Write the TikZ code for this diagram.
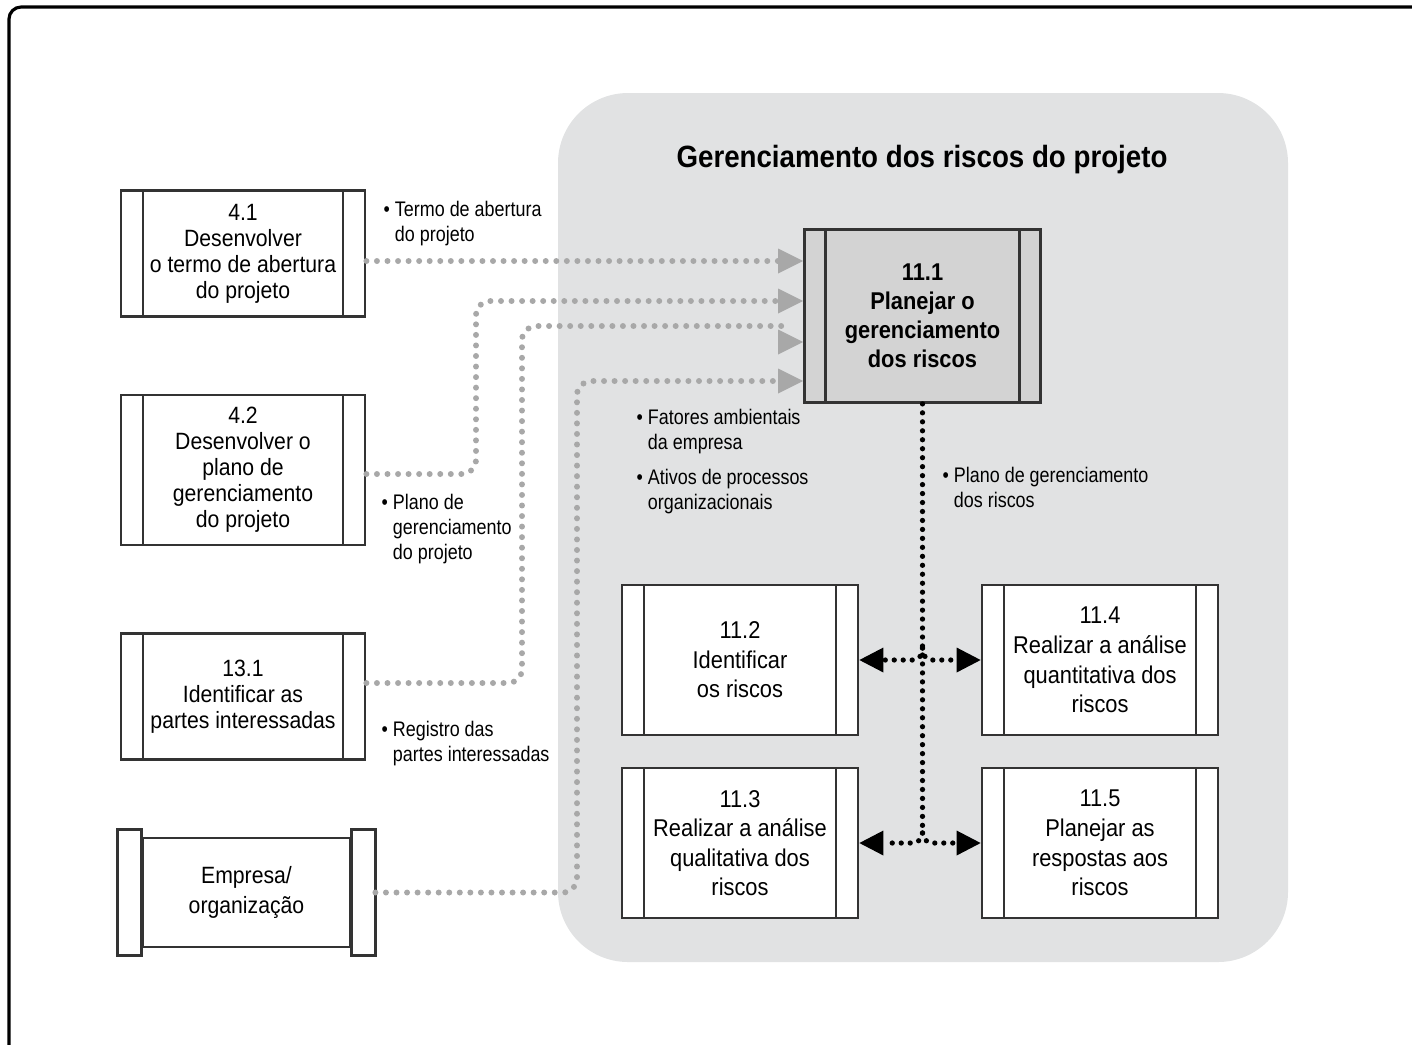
\documentclass[tikz,border=0pt]{standalone}
\usepackage{fontspec}
\setmainfont{Liberation Sans}
\newfontfamily\boxfont[FakeStretch=0.9]{Liberation Sans}
\newfontfamily\labfont[FakeStretch=0.85]{Liberation Sans}
\usetikzlibrary{arrows.meta}
\definecolor{panel}{HTML}{E1E2E3}
\definecolor{hl}{HTML}{D3D3D3}
\definecolor{dotgray}{HTML}{A8A8A8}
\definecolor{edge}{HTML}{333333}
\tikzset{
  bars/.style={path picture={
      \draw[edge, line width=0.75pt]
        ([xshift=#1]path picture bounding box.north west) -- ([xshift=#1]path picture bounding box.south west)
        ([xshift=-#1]path picture bounding box.north east) -- ([xshift=-#1]path picture bounding box.south east);}},
  proc/.style={draw=edge, line width=0.75pt, fill=white, minimum width=2.44cm, minimum height=1.26cm,
    inner sep=0pt, align=center, bars=0.22cm, font=\boxfont\fontsize{6.7}{7.4}\selectfont},
  procr/.style={proc, minimum width=2.36cm, minimum height=1.5cm, font=\boxfont\fontsize{6.9}{8.4}\selectfont},
  empbox/.style={draw=edge, line width=0.75pt, fill=white, minimum width=2.07cm, minimum height=1.09cm,
    inner sep=0pt, align=center, font=\boxfont\fontsize{6.7}{8.4}\selectfont},
  lab/.style={inner sep=0pt, align=left, anchor=north west, font=\labfont\fontsize{6.0}{7.2}\selectfont},
  gdot/.style={draw=dotgray, line width=1.7pt, line cap=round, dash pattern=on 0pt off 3pt},
  bdot/.style={draw=black, line width=1.5pt, line cap=round, dash pattern=on 0pt off 2.55pt},
  gtip/.style={-{Triangle[length=0.25cm,width=0.25cm,line width=0pt]}},
  btip/.style={-{Triangle[length=0.24cm,width=0.25cm,line width=0pt]}}
}
\begin{document}
\begin{tikzpicture}[x=0.01cm, y=-0.01cm]
\useasboundingbox (0,0) rectangle (1412,1044);
\clip (0,0) rectangle (1412,1044);
\draw[line width=0.9pt, rounded corners=0.12cm] (9,7) rectangle (1440,1070);
\fill[panel, rounded corners=0.7cm] (558,93) rectangle (1288,962);
\node[font=\boxfont\bfseries\fontsize{8.75}{10}\selectfont] (title) at (922,160) {Gerenciamento dos riscos do projeto};

% left boxes
\node[proc] (n41) at (243,253.5) {4.1\\Desenvolver\\o termo de abertura\\do projeto};
\node[proc, minimum height=1.5cm] (n42) at (243,470) {4.2\\Desenvolver o\\plano de\\gerenciamento\\do projeto};
\node[proc] (n131) at (243,696.5) {13.1\\Identificar as\\partes interessadas};
\node[empbox] (emp) at (246.5,892.5) {Empresa/\\organização};
\draw[edge, line width=0.75pt, fill=white] ([shift={(-0.24cm,0.07cm)}]emp.north west) rectangle ([yshift=-0.07cm]emp.south west);
\draw[edge, line width=0.75pt, fill=white] ([yshift=0.07cm]emp.north east) rectangle ([shift={(0.24cm,-0.07cm)}]emp.south east);
\coordinate (empR) at ([xshift=0.24cm]emp.east);

% central boxes
\node[proc, fill=hl, minimum width=2.36cm, minimum height=1.73cm, bars=0.21cm,
  font=\boxfont\bfseries\fontsize{6.9}{8.2}\selectfont] (n111) at (922.5,316) {11.1\\Planejar o\\gerenciamento\\dos riscos};
\node[procr] (n112) at (740,660) {11.2\\Identificar\\os riscos};
\node[procr] (n114) at (1100,660) {11.4\\Realizar a análise\\quantitativa dos\\riscos};
\node[procr] (n113) at (740,843) {11.3\\Realizar a análise\\qualitativa dos\\riscos};
\node[procr] (n115) at (1100,843) {11.5\\Planejar as\\respostas aos\\riscos};

% gray input connectors
\draw[gdot, gtip] (n41.east |- 0,261) -- (n111.west |- 0,261);
\draw[gdot, gtip, rounded corners=0.14cm] (n42.east |- 0,474) -| (476,301) -- (n111.west |- 0,301);
\draw[gdot, rounded corners=0.14cm] (n131.east |- 0,683) -| (522,326) -- (788,326);
\fill[dotgray] (n111.west |- 0,342) -- ++(-0.25cm,0.125cm) -- ++(0,-0.25cm) -- cycle;
\draw[gdot, gtip, rounded corners=0.14cm] (empR) -| (577,381) -- (n111.west |- 0,381);

% black output connectors
\draw[bdot] (n111.south) -- (n111.south |- 0,833);
\draw[bdot, btip, rounded corners=0.1cm] (n111.south |- 0,648) |- (n112.east);
\draw[bdot, btip, rounded corners=0.1cm] (n111.south |- 0,648) |- (n114.west);
\draw[bdot, btip, rounded corners=0.1cm] (n111.south |- 0,833) |- (n113.east);
\draw[bdot, btip, rounded corners=0.1cm] (n111.south |- 0,833) |- (n115.west);

% labels
\node[lab] (l1) at (383,200) {\textbullet\ Termo de abertura\\\phantom{\textbullet\ }do projeto};
\node[lab] (l2) at (381,493) {\textbullet\ Plano de\\\phantom{\textbullet\ }gerenciamento\\\phantom{\textbullet\ }do projeto};
\node[lab] (l3) at (381,720) {\textbullet\ Registro das\\\phantom{\textbullet\ }partes interessadas};
\node[lab] (l4) at (636,408) {\textbullet\ Fatores ambientais\\\phantom{\textbullet\ }da empresa};
\node[lab] (l5) at (636,468) {\textbullet\ Ativos de processos\\\phantom{\textbullet\ }organizacionais};
\node[lab] (l6) at (942,466) {\textbullet\ Plano de gerenciamento\\\phantom{\textbullet\ }dos riscos};
\end{tikzpicture}
\end{document}
